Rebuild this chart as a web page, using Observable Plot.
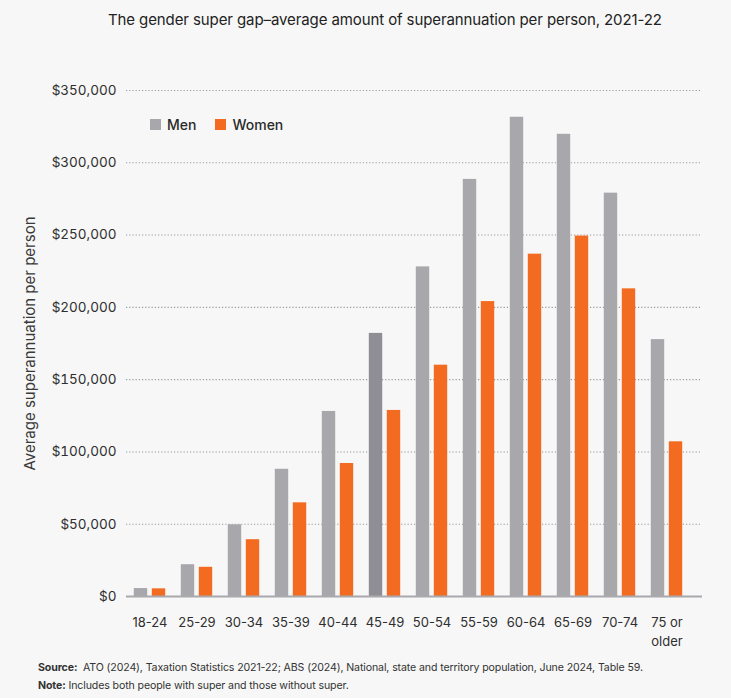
<!DOCTYPE html>
<html>
<head>
<meta charset="utf-8">
<script src="https://cdn.jsdelivr.net/npm/d3@7"></script>
<script src="https://cdn.jsdelivr.net/npm/@observablehq/plot@0.6"></script>
<style>
  html, body { margin: 0; padding: 0; background: #f7f7f7; }
  body { width: 731px; height: 698px; position: relative; overflow: hidden; font-family: Inter, "Noto Sans", sans-serif; color: #262626; }
  #title { position: absolute; top: 10px; left: 108px; font-size: 15px; color: #222; white-space: nowrap; letter-spacing: -0.1px; }
  #chart { position: absolute; top: 40px; left: 0; }
  #legend { position: absolute; top: 116px; left: 150px; font-size: 14px; font-weight: 500; color: #2a2a2a; display: flex; align-items: center; }
  #legend .sw { display: inline-block; width: 11px; height: 11px; margin-right: 6px; }
  #legend .item { display: flex; align-items: center; margin-right: 19px; }
  #foot { position: absolute; top: 659px; left: 38px; font-size: 10.6px; color: #333; line-height: 18px; letter-spacing: -0.12px; white-space: nowrap; }
  #foot b { font-weight: 700; }
</style>
</head>
<body>
<div id="title">The gender super gap–average amount of superannuation per person, 2021-22</div>
<div id="chart"></div>
<div id="legend">
  <span class="item"><span class="sw" style="background:#a8a7ac"></span>Men</span>
  <span class="item"><span class="sw" style="background:#f36b21"></span>Women</span>
</div>
<div id="foot">
  <div><b>Source:</b>&nbsp; ATO (2024), Taxation Statistics 2021-22; ABS (2024), National, state and territory population, June 2024, Table 59.</div>
  <div><b>Note:</b> Includes both people with super and those without super.</div>
</div>
<script>
const ages = ["18-24","25-29","30-34","35-39","40-44","45-49","50-54","55-59","60-64","65-69","70-74","75 or older"];
const men = [5500, 22000, 49600, 88000, 128000, 182000, 228000, 288500, 331500, 319700, 279000, 177700];
const women = [5300, 20200, 39300, 64800, 92000, 128700, 160000, 204000, 236800, 249300, 212800, 107000];
const highlightAge = "45-49";
const yTicks = [0, 50000, 100000, 150000, 200000, 250000, 300000, 350000];
const yLabel = "Average superannuation per person";

const menData = ages.map((a, i) => ({age: a, value: men[i], hi: a === highlightAge}));
const womenData = ages.map((a, i) => ({age: a, value: women[i]}));

const fmt = d => "$" + d3.format(",")(d);

const chart = Plot.plot({
  width: 731,
  height: 615,
  marginTop: 50,
  marginBottom: 59,
  marginLeft: 126,
  marginRight: 29,
  style: {background: "#f7f7f7", fontFamily: "Inter, 'Noto Sans', sans-serif", color: "#333"},
  x: {domain: ages, range: [123.2, 693.8], padding: 0},
  y: {domain: [0, 350000]},
  marks: [
    Plot.ruleY(yTicks.filter(d => d > 0), {stroke: "#9a9a9a", strokeWidth: 1.1, strokeDasharray: "1.2,2"}),
    Plot.barY(menData, {x: "age", y: "value", fill: d => d.hi ? "#8f8e94" : "#a8a7ac", insetLeft: 16.8, insetRight: 16.8, dx: -9}),
    Plot.barY(womenData, {x: "age", y: "value", fill: "#f36b21", insetLeft: 16.8, insetRight: 16.8, dx: 9}),
    Plot.ruleY([0], {stroke: "#a9a9ad", strokeWidth: 2}),
    Plot.axisY({ticks: yTicks, tickFormat: fmt, tickSize: 0, tickPadding: 10, fontSize: 13.5, label: null, fill: "#2e2e2e"}),
    Plot.axisX({tickSize: 0, tickPadding: 17, fontSize: 13, label: null, lineHeight: 1.45, fill: "#2e2e2e",
      tickFormat: d => d === "75 or older" ? "75 or\nolder" : d}),
    Plot.text([yLabel], {frameAnchor: "left", text: d => d, rotate: -90, textAnchor: "middle", dx: -96, fontSize: 15, fill: "#3a3a3a"})
  ]
});
document.getElementById("chart").append(chart);
</script>
</body>
</html>
